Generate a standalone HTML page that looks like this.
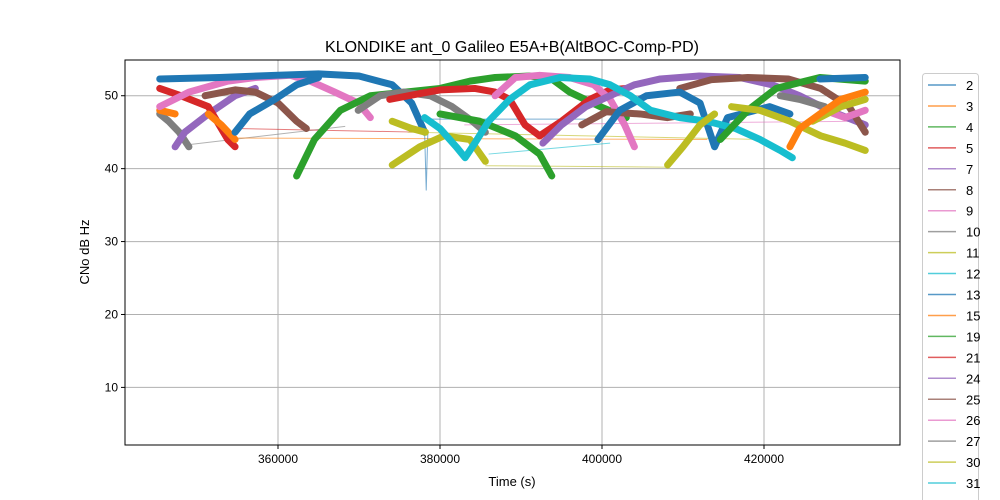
<!DOCTYPE html>
<html><head><meta charset="utf-8"><style>
html,body{margin:0;background:#fff;font-family:"Liberation Sans","DejaVu Sans",sans-serif;width:1000px;height:500px;overflow:hidden}
svg{display:block;overflow:hidden}
</style></head><body>
<svg id="chart" width="1000" height="500" xmlns="http://www.w3.org/2000/svg"></svg>
<script>
const xTicks=[360000,380000,400000,420000];
const yTicks=[10,20,30,40,50];
const legendLabels=["2","3","4","5","7","8","9","10","11","12","13","15","19","21","24","25","26","27","30","31","33"];
const palette=["#1f77b4","#ff7f0e","#2ca02c","#d62728","#9467bd","#8c564b","#e377c2","#7f7f7f","#bcbd22","#17becf"];
const arcBlue1=[[345400,52.3],[352800,52.5],[359600,52.8],[365000,53],[370000,52.7],[374100,51.5],[376500,49],[378100,45]];
const arcBlue2=[[354700,45],[356500,47.5],[359600,49.5],[362300,51.5],[365000,52.5]];
const arcBlue3=[[399500,44],[402200,48],[405500,50],[409600,50.5],[412100,49],[413900,43],[415500,47],[420700,48.5],[423200,47.5]];
const arcBlue4=[[426900,52.3],[432500,52.5]];
const arcGreen1=[[362300,39],[364500,44],[367700,48],[371400,50],[374100,50.3],[380000,51],[383700,52],[386800,52.5],[391100,52.7],[393800,52.3],[396000,50.5],[399800,48.5],[403000,47]];
const arcGreen2=[[380000,47.5],[384900,46.5],[389300,44.5],[392300,42],[393800,39]];
const arcGreen3=[[414600,44],[418000,48],[421500,51],[426900,52.5],[432500,52]];
const arcRed1=[[345400,51],[348000,50],[351400,48.5],[353800,44],[354700,43]];
const arcRed2=[[373800,49.5],[377500,50.3],[380000,50.8],[384300,51],[386800,50.5],[388600,49.5],[390500,46],[392300,44.5],[395000,46.5],[398500,49.5],[401000,50.8],[403000,51]];
const arcPink1=[[345400,48.5],[349000,50.5],[353800,52],[357200,52.5],[361500,52.8],[364000,52],[367000,50.5],[369900,49],[371400,47]];
const arcPink2=[[386800,50],[389300,52.5],[392300,52.8],[396000,52.5],[399000,51.5],[401000,49.5],[402800,46],[404000,43]];
const arcPink3=[[427500,48],[430000,47],[432500,48]];
const arcPurple1=[[347300,43],[348500,45],[351400,47.5],[354700,50],[357200,51]];
const arcPurple2=[[392700,43.5],[395000,46],[398000,48.5],[401000,50],[404000,51.5],[407200,52.3],[412000,52.7],[417000,52.5],[421000,51.5],[424400,50],[428000,48],[432500,46]];
const arcBrown1=[[351000,50],[354700,50.8],[357200,50.5],[360000,49],[362300,46.5],[363500,45.5]];
const arcBrown2=[[409600,51],[413500,52.2],[418000,52.5],[423000,52.3],[427000,51],[430500,48.5],[432500,45]];
const arcBrown3=[[397500,46],[400500,47.8],[404700,47.5],[408100,47],[410900,47.5]];
const arcGray1=[[345400,47.5],[346500,46.5],[347800,45],[349000,43]];
const arcGray2=[[369900,48],[372600,50],[375500,50.5],[378800,50],[381500,48.5],[384000,46.5],[385600,45]];
const arcGray3=[[422000,50],[424400,49.5],[427500,48.5]];
const arcOlive1=[[374100,46.5],[376500,45.5],[378200,45]];
const arcOlive2=[[374100,40.5],[377500,43],[380500,44.5],[383700,44],[385600,41]];
const arcOlive3=[[408100,40.5],[410000,43],[412100,46],[413900,47.5]];
const arcOlive4=[[416000,48.5],[419500,48],[423200,46.5],[427000,44.5],[430000,43.5],[432500,42.5]];
const arcOlive5=[[426000,46.5],[429500,48.5],[432500,49.5]];
const arcCyan=[[378100,47],[380000,45.5],[382000,43],[383100,41.5],[384300,43.5],[386000,46.5],[388600,49.5],[391100,51.5],[394800,52.5],[398500,52.3],[401000,51.5],[403500,50],[406000,48],[409600,47],[413000,46.5],[416500,45.5],[419500,44],[422000,42.5],[423500,41.5]];
const arcOrange1=[[345400,48],[347300,47.5]];
const arcOrange2=[[351400,47.5],[353000,46],[354700,44]];
const arcOrange3=[[423200,43],[424400,45.5],[426900,47.5],[429500,49.5],[432500,50.5]];
const spikeBlue=[[378100,45],[378300,37],[378500,45]];
const linkGray=[[349000,43.3],[368300,45.8]];
const linkRed=[[354700,45.5],[377500,45]];
const linkOrange=[[354700,44.2],[413000,44]];
const linkOlive=[[385600,40.4],[408100,40.2]];
const linkCyan=[[386000,42],[401000,43.5]];
const linkBlue=[[378800,46.8],[398500,46.8]];
const linkPink=[[383000,46],[432000,46.5]];
const linkOlive2=[[376000,45],[420000,44]];

const L=125,R=900,T=60,B=445;
const X0=341111,X1=436790,Y0=2.1,Y1=54.9;
const sx=t=>L+(t-X0)/(X1-X0)*(R-L);
const sy=v=>B-(v-Y0)/(Y1-Y0)*(B-T);
const svg=document.getElementById('chart');
const NS="http://www.w3.org/2000/svg";
function mk(tag,attrs,parent){const e=document.createElementNS(NS,tag);for(const k in attrs)e.setAttribute(k,attrs[k]);(parent||svg).appendChild(e);return e;}

const frameBg=mk('rect',{x:L,y:T,width:R-L,height:B-T,fill:'#fff'});



xTicks.forEach(t=>{const x=sx(t);
 const g=mk('line',{x1:x,x2:x,y1:T,y2:B,stroke:'#b0b0b0','stroke-width':1});
 
 
 mk('line',{x1:x,x2:x,y1:B,y2:B+4,stroke:'#000'});
 const tx=mk('text',{x:x,y:B+18,'text-anchor':'middle','font-size':12});tx.textContent=t;
 
 
});
yTicks.forEach(v=>{const y=sy(v);
 const g=mk('line',{x1:L,x2:R,y1:y,y2:y,stroke:'#b0b0b0','stroke-width':1});
 
 
 mk('line',{x1:L-4,x2:L,y1:y,y2:y,stroke:'#000'});
 const tx=mk('text',{x:L-7,y:y+4,'text-anchor':'end','font-size':12});tx.textContent=v;
 
 
});

const thin=[[linkGray,7],[linkRed,3],[linkOrange,1],[linkOlive,8],[linkCyan,9],[linkBlue,0],[linkPink,6],[linkOlive2,8],[spikeBlue,0]];
const arcs=[[arcGray1,7],[arcOrange1,1],[arcPurple1,4],[arcRed1,3],[arcOrange2,1],[arcBrown1,5],[arcPink1,6],[arcBlue2,0],[arcBlue1,0],
 [arcGreen1,2],[arcGray2,7],[arcOlive1,8],[arcOlive2,8],[arcRed2,3],[arcGreen2,2],[arcPink2,6],[arcBrown3,5],[arcPurple2,4],
 [arcBrown2,5],[arcBlue3,0],[arcCyan,9],[arcOlive3,8],[arcGray3,7],[arcGreen3,2],[arcBlue4,0],[arcOlive4,8],[arcPink3,6],[arcOlive5,8],[arcOrange3,1]];
const clip=mk('clipPath',{id:'pc'});mk('rect',{x:L,y:T,width:R-L,height:B-T},clip);
const pg=mk('g',{'clip-path':'url(#pc)'});


thin.forEach(([pts,c])=>{const p=mk('polyline',{points:pts.map(d=>sx(d[0])+','+sy(d[1])).join(' '),fill:'none',stroke:palette[c],'stroke-width':1,'stroke-opacity':0.6},pg);
 
 
});
arcs.forEach(([pts,c])=>{const p=mk('polyline',{points:pts.map(d=>sx(d[0])+','+sy(d[1])).join(' '),fill:'none',stroke:palette[c],'stroke-width':7,'stroke-linejoin':'round','stroke-linecap':'round'},pg);
 
 
});

const fr=mk('rect',{x:L,y:T,width:R-L,height:B-T,fill:'none',stroke:'#000','stroke-width':1});



const title=mk('text',{x:512,y:52,'text-anchor':'middle','font-size':16});title.textContent='KLONDIKE ant_0 Galileo E5A+B(AltBOC-Comp-PD)';


const xl=mk('text',{x:512,y:486,'text-anchor':'middle','font-size':13});xl.textContent='Time (s)';


const yl=mk('text',{x:89,y:252,'text-anchor':'middle','font-size':13,transform:'rotate(-90 89 252)'});yl.textContent='CNo dB Hz';



const lg=mk('g',{});


mk('rect',{x:922.5,y:73.5,width:56,height:440,rx:3,fill:'#fff',stroke:'#ccc'},lg);
legendLabels.forEach((lab,i)=>{const y=85+i*20.95;
 const e=mk('g',{},lg);
 
 
 mk('line',{x1:928,x2:956,y1:y,y2:y,stroke:palette[i%10],'stroke-width':1.5,'stroke-opacity':0.75},e);
 const t=mk('text',{x:966,y:y+5,'font-size':13},e);t.textContent=lab;
});
</script>
</body></html>
